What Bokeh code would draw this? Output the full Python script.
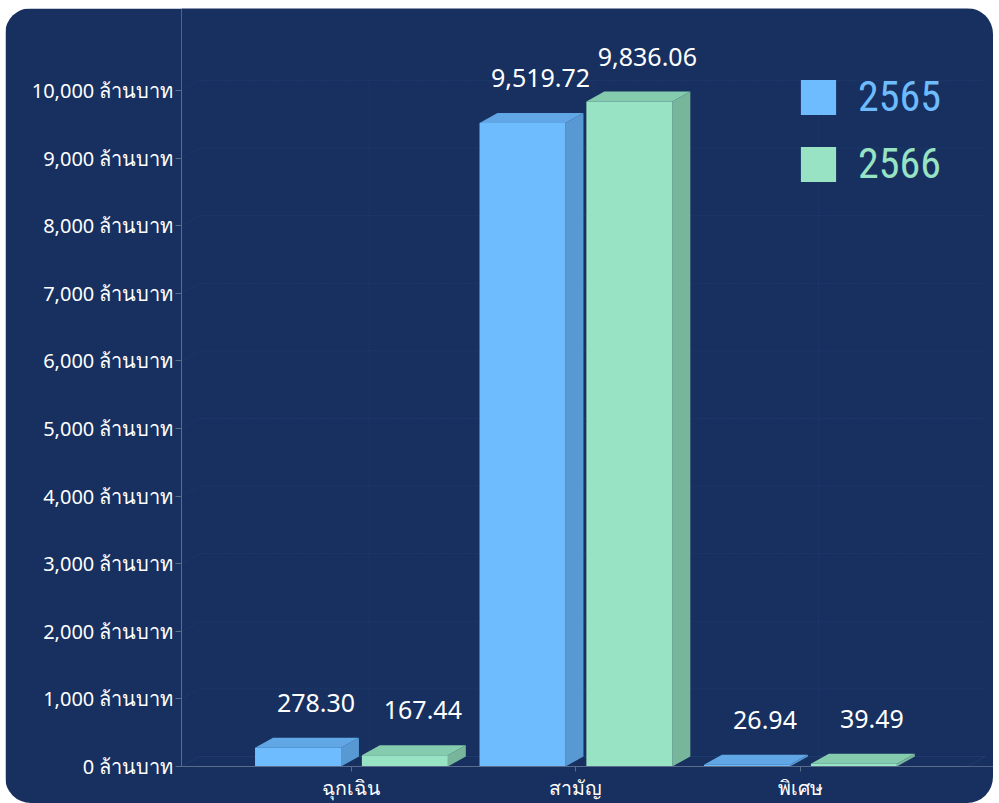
from bokeh.plotting import figure
from bokeh.models import Range1d, FixedTicker, Legend, LegendItem, ColumnDataSource
from bokeh.embed import file_html
from bokeh.resources import INLINE
from bokeh.core.properties import value

# ---- data ----
categories = ["ฉุกเฉิน", "สามัญ", "พิเศษ"]
years = ["2565", "2566"]
values_2565 = [278.30, 9519.72, 26.94]
values_2566 = [167.44, 9836.06, 39.49]
y_ticks = [0, 1000, 2000, 3000, 4000, 5000, 6000, 7000, 8000, 9000, 10000]
y_tick_labels = [f"{t:,} ล้านบาท" for t in y_ticks]

# ---- style / geometry ----
BG = "#17305f"
FRONT = ["#6ebbfd", "#97e3c3"]
TOP = ["#61a7e5", "#85cbad"]
SIDE = ["#5899d3", "#77b69a"]
TXT = ["#6ebbfd", "#97e3c3"]
FONT = "Noto Sans"
LEG_FONT = 'Roboto Condensed, "DejaVu Sans Condensed", "Liberation Sans Narrow", sans-serif'

X0, X1 = -0.757, 2.860
AX_END = 2.744
BAR_W = 0.383
OFFS = [-0.238, 0.238]
DX = 0.080   # 3D depth in x (data units)
DY = 148.0   # 3D depth in y (data units)

p = figure(width=988, height=795, output_backend="svg", toolbar_location=None,
           x_range=Range1d(X0, X1), y_range=Range1d(0, 11213),
           min_border_left=176, min_border_right=0, min_border_top=0,
           min_border_bottom=37)
p.styles = {"border-radius": "26px", "overflow": "hidden",
            "margin-left": "5px", "margin-top": "8px"}
p.background_fill_color = BG
p.border_fill_color = BG
p.outline_line_color = None
p.xgrid.visible = False
p.ygrid.visible = False

GRID = "#2a4a80"
# back-wall grid lines
gx, gy = [], []
for t in y_ticks[1:]:
    gx.append([X0, X0 + DX, AX_END + DX])
    gy.append([t, t + DY, t + DY])
p.multi_line(gx, gy, line_color=GRID, line_alpha=0.35, line_width=1,
             line_dash="2 1")
# floor edges
p.multi_line([[X0, X0 + DX, AX_END + DX, AX_END]], [[0, DY, DY, 0]],
             line_color=GRID, line_alpha=0.45, line_width=1)
# back-wall vertical lines at categories
vx = [[i + DX, i + DX] for i in range(len(categories))]
vy = [[DY, y_ticks[-1] + DY] for _ in categories]
p.multi_line(vx, vy, line_color=GRID, line_alpha=0.3, line_width=1,
             line_dash="2 1")

renderers = []
for s, vals in enumerate([values_2565, values_2566]):
    left = [i + OFFS[s] - BAR_W / 2 for i in range(len(categories))]
    right = [i + OFFS[s] + BAR_W / 2 for i in range(len(categories))]
    src = ColumnDataSource(dict(left=left, right=right, top=vals,
                                bottom=[0] * len(vals)))
    # side face
    sx = [[r, r + DX, r + DX, r] for r in right]
    sy = [[0, DY, v + DY, v] for v in vals]
    p.patches(sx, sy, fill_color=SIDE[s], line_color=None)
    # top face
    tx = [[l, r, r + DX, l + DX] for l, r in zip(left, right)]
    ty = [[v, v, v + DY, v + DY] for v in vals]
    p.patches(tx, ty, fill_color=TOP[s], line_color=None)
    # front face
    r = p.quad(left="left", right="right", top="top", bottom="bottom",
               source=src, fill_color=FRONT[s], line_color=None)
    renderers.append(r)
    # value labels
    lx = [(l + rr) / 2 + DX / 2 for l, rr in zip(left, right)]
    ly = [v + DY for v in vals]
    p.text(lx, ly, text=[f"{v:,.2f}" for v in vals], text_color="white",
           text_font=value(FONT), text_font_size="25px", text_align="center",
           text_baseline="middle", x_offset=9, y_offset=-35)

# axes
p.yaxis.ticker = FixedTicker(ticks=y_ticks)
p.yaxis.major_label_overrides = {t: lab for t, lab in zip(y_ticks, y_tick_labels)}
p.yaxis.bounds = (0, y_ticks[-1])
p.yaxis.minor_tick_line_color = None
p.yaxis.major_tick_in = 0
p.yaxis.major_tick_out = 6
p.yaxis.major_label_standoff = 2
p.yaxis.axis_line_color = "#5b6b8a"
p.yaxis.major_tick_line_color = "#5b6b8a"
p.yaxis.major_label_text_color = "white"
p.yaxis.major_label_text_font = FONT
p.yaxis.major_label_text_font_size = "20px"

p.xaxis.ticker = FixedTicker(ticks=list(range(len(categories))))
p.xaxis.major_label_overrides = {i: c for i, c in enumerate(categories)}
p.xaxis.bounds = (X0, AX_END)
p.xaxis.minor_tick_line_color = None
p.xaxis.major_tick_in = 0
p.xaxis.major_tick_out = 5
p.xaxis.major_label_standoff = 2
p.xaxis.axis_line_color = "#5b6b8a"
p.xaxis.major_tick_line_color = "#5b6b8a"
p.xaxis.major_label_text_color = "white"
p.xaxis.major_label_text_font = FONT
p.xaxis.major_label_text_font_size = "19.5px"
p.xaxis.major_label_text_line_height = 1.0

# legends (one per series so each label has its own colour)
for s, yr in enumerate(years):
    lg = Legend(items=[LegendItem(label=yr, renderers=[renderers[s]])],
                location=(615, 645 - s * 67), orientation="vertical",
                glyph_width=44, glyph_height=44, label_standoff=18,
                label_text_font_size="42px", label_text_color=TXT[s],
                label_text_font=LEG_FONT,
                background_fill_alpha=0, border_line_color=None,
                padding=0, margin=0, spacing=0)
    p.add_layout(lg)

open("out.html", "w").write(file_html(p, INLINE))
